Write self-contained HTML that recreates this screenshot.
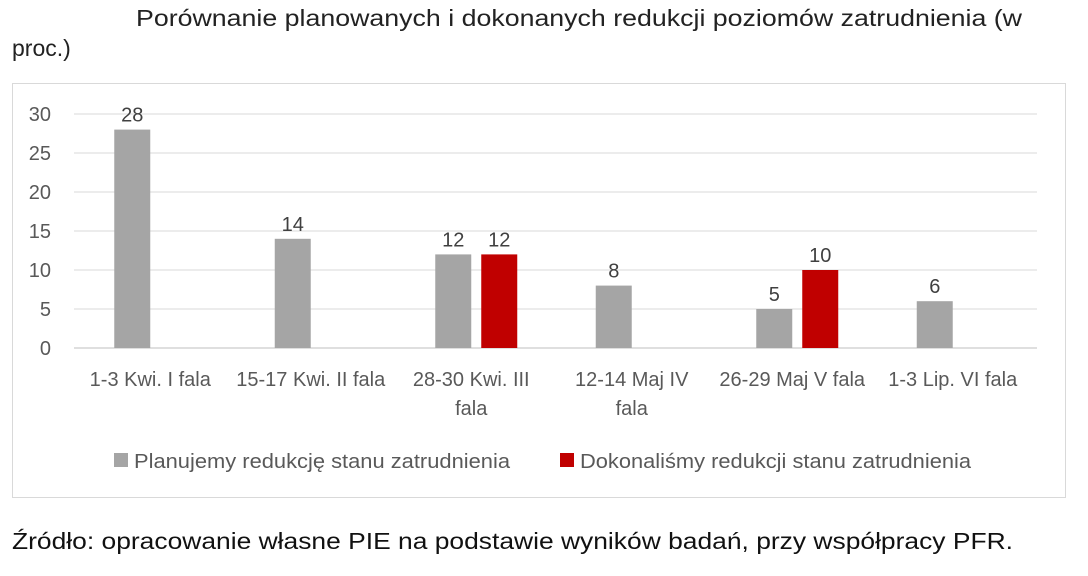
<!DOCTYPE html>
<html><head><meta charset="utf-8"><style>
body{margin:0;background:#fff;width:1088px;height:576px;overflow:hidden;font-family:"Liberation Sans",sans-serif;}
svg{position:absolute;left:0;top:0}
</style></head><body>
<svg width="1088" height="576">
<text x="136" y="26" font-size="23" fill="#222" textLength="886" lengthAdjust="spacingAndGlyphs">Porównanie planowanych i dokonanych redukcji  poziomów zatrudnienia (w</text>
<text x="12" y="56" font-size="23" fill="#222">proc.)</text>
<rect x="12.5" y="83.5" width="1053" height="414" fill="#fff" stroke="#d9d9d9"/>
<g id="grid"></g><g id="bars"></g><g id="labels"></g>
<rect x="114" y="453" width="14" height="14" fill="#a5a5a5"/>
<text x="134" y="468" font-size="20" fill="#595959" textLength="376" lengthAdjust="spacingAndGlyphs">Planujemy redukcję stanu zatrudnienia</text>
<rect x="560" y="453" width="14" height="14" fill="#c00000"/>
<text x="580" y="468" font-size="20" fill="#595959" textLength="391" lengthAdjust="spacingAndGlyphs">Dokonaliśmy redukcji stanu zatrudnienia</text>
<text x="12" y="549" font-size="23" fill="#111" textLength="1001" lengthAdjust="spacingAndGlyphs">Źródło: opracowanie własne PIE na podstawie wyników badań, przy współpracy PFR.</text>
</svg>
<script>
const categories=[["1-3 Kwi. I fala"],["15-17 Kwi. II fala"],["28-30 Kwi. III","fala"],["12-14 Maj IV","fala"],["26-29 Maj V fala"],["1-3 Lip. VI fala"]];
const planned=[28,14,12,8,5,6];
const done=[null,null,12,null,10,null];
const ticks=[0,5,10,15,20,25,30];
const NS="http://www.w3.org/2000/svg";
const x0=74,x1=1037,y0=348,yTop=114;
const bw=(x1-x0)/categories.length;
const y=v=>y0-(v/30)*(y0-yTop);
const cx=i=>x0+bw*(i+0.5);
function mk(tag,attrs,parent,txt){const e=document.createElementNS(NS,tag);for(const k in attrs)e.setAttribute(k,attrs[k]);if(txt!==undefined)e.textContent=txt;document.getElementById(parent).appendChild(e);return e;}
ticks.forEach(t=>{
 const l=mk('line',{x1:x0,x2:x1,y1:y(t),y2:y(t),stroke:t===0?'#bfbfbf':'#d9d9d9','stroke-width':1},'grid');
 
 
 const tx=mk('text',{x:51,y:y(t)+7,'font-size':20,fill:'#595959','text-anchor':'end'},'grid',t);
 
 
});
categories.forEach((c,i)=>{
 const pv=planned[i];
 if(pv!=null){
  const r=mk('rect',{x:cx(i)-40,y:y(pv),width:36,height:y0-y(pv),fill:'#a5a5a5'},'bars');
  
  
  const t=mk('text',{x:cx(i)-22,y:y(pv)-8,'font-size':20,fill:'#404040','text-anchor':'middle'},'labels',pv);
  
  
 }
 const dv=done[i];
 if(dv!=null){
  const r=mk('rect',{x:cx(i)+6,y:y(dv),width:36,height:y0-y(dv),fill:'#c00000'},'bars');
  
  
  const t=mk('text',{x:cx(i)+24,y:y(dv)-8,'font-size':20,fill:'#404040','text-anchor':'middle'},'labels',dv);
  
  
 }
 c.forEach((line,k)=>{
  const t=mk('text',{x:cx(i)-4,y:386+k*29,'font-size':20,fill:'#595959','text-anchor':'middle'},'labels',line);
  
  
 });
});
</script>
</body></html>
